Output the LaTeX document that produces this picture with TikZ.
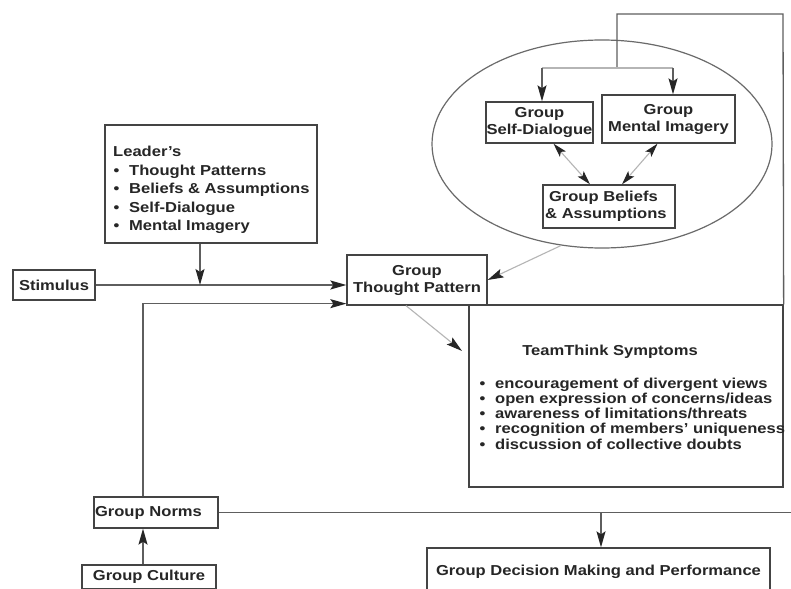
\documentclass[tikz,border=0pt]{standalone}
\usepackage{fontspec}
\setmainfont{Liberation Sans}[FakeStretch=1.15]
\usetikzlibrary{arrows.meta,shapes.geometric}
\definecolor{ink}{HTML}{262626}
\definecolor{edgec}{HTML}{444444}
\definecolor{wire}{HTML}{5E5E5E}
\definecolor{faded}{HTML}{B5B5B5}
\definecolor{ringc}{HTML}{6A6A6A}
\newcommand\lbl{\fontsize{14.4}{17}\selectfont\bfseries}
\newcommand\bul{\makebox[16pt][l]{\hspace{0.5pt}•}}
\begin{document}
\begin{tikzpicture}[x=1pt,y=-1pt,
  rbox/.style={draw=edgec,line width=1.3pt,inner sep=0pt,font=\lbl,text=ink,align=center},
  txt/.style={inner sep=0pt,font=\lbl,text=ink,align=left},
  wirel/.style={draw=wire,line width=1.3pt},
  fadel/.style={draw=faded,line width=1.1pt},
  arrowend/.style={-{Stealth[length=16pt,width=9pt,inset=3pt,color=ink]}},
  arrowboth/.style={{Stealth[length=14pt,width=8pt,inset=3pt,color=ink]}-{Stealth[length=14pt,width=8pt,inset=3pt,color=ink]}},
]
\useasboundingbox (0,0) rectangle (791,588);
\fill[white] (0,0) rectangle (791,588);
\clip (0,0) rectangle (791,588);

% ellipse group
\node[draw=ringc,line width=1.2pt,ellipse,minimum width=340,minimum height=208,inner sep=0pt] (ell) at (602,144) {};
\node[rbox,minimum width=107,minimum height=41] (sd) at (539.5,122.5) {Group\\Self-Dialogue};
\node[rbox,minimum width=133,minimum height=48] (mi) at (668.5,119) {Group\\Mental Imagery};
\node[rbox,minimum width=132,minimum height=43,align=left,text width=128] (gba) at (609,206.5) {\hspace{4pt}Group Beliefs\\\& Assumptions};

% main boxes
\node[rbox,minimum width=140,minimum height=50] (gtp) at (417,280) {Group\\Thought Pattern};
\node[rbox,minimum width=212,minimum height=118] (leader) at (211,184) {};
\node[txt,anchor=west,font=\fontsize{14.4}{18.5}\selectfont\bfseries] (leadertxt) at (113,190)
  {Leader's\\\bul Thought Patterns\\\bul Beliefs \& Assumptions\\\bul Self-Dialogue\\\bul Mental Imagery};
\node[rbox,minimum width=82,minimum height=30] (stim) at (54,285) {Stimulus};

\node[rbox,minimum width=314,minimum height=182] (tt) at (626,396) {};
\node[txt] (tttitle) at (610,352) {TeamThink Symptoms};
\node[txt,anchor=west,font=\fontsize{14.4}{15.3}\selectfont\bfseries] (ttlist) at (479,413.5)
  {\bul encouragement of divergent views\\\bul open expression of concerns/ideas\\\bul awareness of limitations/threats\\\bul recognition of members' uniqueness\\\bul discussion of collective doubts};

\node[rbox,minimum width=124,minimum height=31,align=left,text width=122] (norms) at (156,512.5) {Group Norms};
\node[rbox,minimum width=134,minimum height=24] (culture) at (149,577) {Group Culture};
\node[rbox,minimum width=343,minimum height=48] (gdm) at (598.5,572) {Group Decision Making and Performance};

% helper coordinates
\coordinate (vx) at (143,0);
\coordinate (lx) at (200,0);
\coordinate (dx) at (601,0);
\coordinate (rim) at (791,512.5);
\coordinate (top1) at (617,14);
\coordinate (top2) at (783,14);
\coordinate (fork) at (617,68);
\coordinate (sdin) at (542,68);
\coordinate (miin) at (673,68);
\coordinate (ttin) at (462,351);

% connectors
\draw[wirel,arrowend] (stim.east) -- (stim.east -| gtp.west);
\draw[wirel,arrowend] (leader.south -| lx) -- (lx |- stim.east);
\draw[wirel,arrowend] (norms.north -| vx) |- ([yshift=2pt]gtp.south west);
\draw[wirel,arrowend] (culture.north -| vx) -- (norms.south -| vx);
\draw[wirel] (norms.east) -- (rim);
\draw[wirel,arrowend] (dx |- rim) -- (dx |- gdm.north);

\draw[wirel] (tt.north east) -- (top2) -- (top1) -- (fork);
\draw[fadel] (sdin) -- (miin);
\draw[wirel,arrowend] (sdin) -- (sdin |- sd.north);
\draw[wirel,arrowend] (miin) -- (miin |- mi.north);

\draw[fadel,arrowend] (ell.248) -- (gtp.east);
\draw[fadel,arrowend] ([xshift=-11pt]gtp.south) -- (ttin);
\draw[fadel,arrowboth] ([xshift=14pt]sd.south) -- ([xshift=-19pt]gba.north);
\draw[fadel,arrowboth] ([xshift=-11pt]mi.south) -- ([xshift=13pt]gba.north);
\end{tikzpicture}
\end{document}
